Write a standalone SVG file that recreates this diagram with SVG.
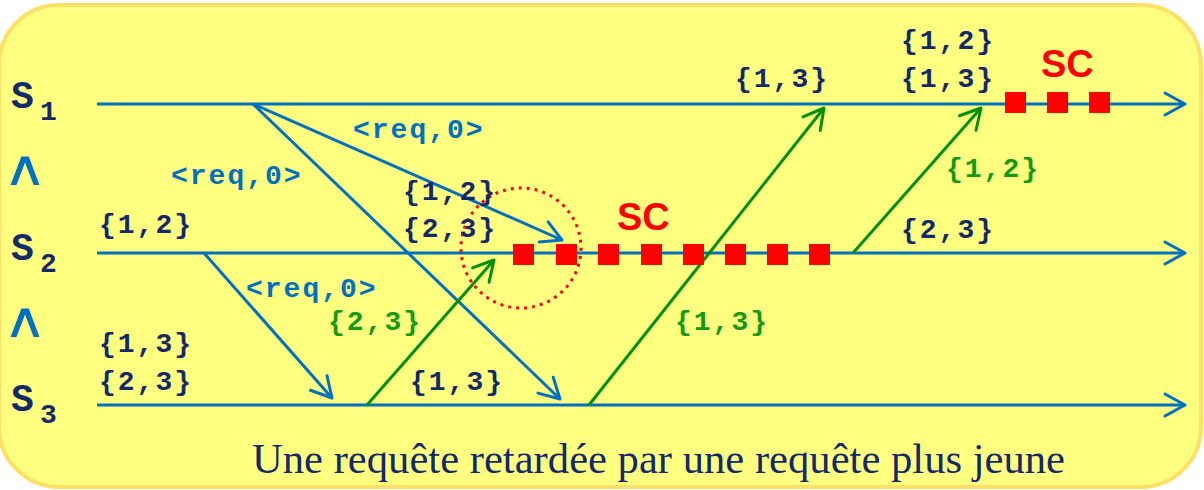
<svg xmlns="http://www.w3.org/2000/svg" width="1204" height="490" viewBox="0 0 1204 490">
<style>
.lbl{font-family:"Liberation Mono","Courier New",monospace;font-weight:bold;font-size:28px;letter-spacing:2px}
.navy{fill:#13296B}
.blue{fill:#0070C0}
.green{fill:#129A12}
.big{font-family:"Liberation Mono","Courier New",monospace;font-weight:bold;fill:#13296B}
.sc{font-family:"Liberation Sans",Arial,sans-serif;font-weight:bold;font-size:38px;fill:#FF0000}
.and{font-family:"DejaVu Sans",sans-serif;font-size:58px;fill:#0070C0}
.tl{stroke:#0070C0;stroke-width:3;fill:none}
.bm{stroke:#0070C0;stroke-width:3;fill:none}
.gm{stroke:#009000;stroke-width:3;fill:none}
.sq{fill:#FF0000}
</style>
<defs>
<marker id="ab" viewBox="-23 -14 26 28" markerWidth="26" markerHeight="28" refX="0" refY="0" markerUnits="userSpaceOnUse" orient="auto">
<path d="M-20,-11 L0,0 L-20,11" fill="none" stroke="#0070C0" stroke-width="3" stroke-linecap="round" stroke-linejoin="round"/>
</marker>
<marker id="ag" viewBox="-23 -14 26 28" markerWidth="26" markerHeight="28" refX="0" refY="0" markerUnits="userSpaceOnUse" orient="auto">
<path d="M-20,-11 L0,0 L-20,11" fill="none" stroke="#009000" stroke-width="3" stroke-linecap="round" stroke-linejoin="round"/>
</marker>
</defs>
<rect x="-1" y="5" width="1202" height="482" rx="60" ry="60" fill="#FFFF80" stroke="#FFE066" stroke-width="4"/>

<g id="S1">
<text class="big" x="11" y="108" font-size="38">S</text>
<text class="big" x="40" y="120" font-size="28">1</text>
<line class="tl" x1="97" y1="104" x2="1185" y2="104" marker-end="url(#ab)"/>
</g>
<g id="S2">
<text class="big" x="11" y="260" font-size="38">S</text>
<text class="big" x="40" y="272" font-size="28">2</text>
<line class="tl" x1="97" y1="253" x2="1185" y2="253" marker-end="url(#ab)"/>
</g>
<g id="S3">
<text class="big" x="11" y="411" font-size="38">S</text>
<text class="big" x="40" y="423" font-size="28">3</text>
<line class="tl" x1="97" y1="405" x2="1185" y2="405" marker-end="url(#ab)"/>
</g>
<g id="and-symbols">
<text class="and" transform="translate(25,185) scale(1.05,0.85)" text-anchor="middle">∧</text>
<text class="and" transform="translate(25,337) scale(1.05,0.85)" text-anchor="middle">∧</text>
</g>

<g id="connectors">
<line class="bm" x1="253" y1="104" x2="562" y2="240" marker-end="url(#ab)"/>
<line class="bm" x1="253" y1="104" x2="560" y2="399" marker-end="url(#ab)"/>
<line class="bm" x1="204" y1="253" x2="332" y2="398" marker-end="url(#ab)"/>
<line class="gm" x1="367" y1="405" x2="494" y2="260" marker-end="url(#ag)"/>
<line class="gm" x1="589" y1="405" x2="824" y2="108" marker-end="url(#ag)"/>
<line class="gm" x1="853" y1="253" x2="981" y2="108" marker-end="url(#ag)"/>
</g>

<g id="sc-S2">
<rect class="sq" x="513" y="244" width="21" height="21"/>
<rect class="sq" x="556" y="244" width="21" height="21"/>
<rect class="sq" x="598" y="244" width="21" height="21"/>
<rect class="sq" x="641" y="244" width="21" height="21"/>
<rect class="sq" x="683" y="244" width="21" height="21"/>
<rect class="sq" x="725" y="244" width="21" height="21"/>
<rect class="sq" x="767" y="244" width="21" height="21"/>
<rect class="sq" x="809" y="244" width="21" height="21"/>
<text class="sc" x="617" y="230">SC</text>
</g>
<g id="sc-S1">
<rect class="sq" x="1005" y="92" width="21" height="21"/>
<rect class="sq" x="1047" y="92" width="21" height="21"/>
<rect class="sq" x="1089" y="92" width="21" height="21"/>
<text class="sc" x="1041" y="77">SC</text>
</g>
<g id="circle">
<circle cx="521" cy="248" r="60" fill="none" stroke="#FF0000" stroke-width="3" stroke-dasharray="3 5"/>
</g>

<g id="labels">
<text class="lbl navy" x="735" y="87">{1,3}</text>
<text class="lbl navy" x="901" y="49">{1,2}</text>
<text class="lbl navy" x="901" y="87">{1,3}</text>
<text class="lbl navy" x="901" y="238">{2,3}</text>
<text class="lbl navy" x="99" y="233">{1,2}</text>
<text class="lbl navy" x="403" y="200">{1,2}</text>
<text class="lbl navy" x="403" y="237">{2,3}</text>
<text class="lbl navy" x="99" y="352">{1,3}</text>
<text class="lbl navy" x="99" y="390">{2,3}</text>
<text class="lbl navy" x="410" y="390">{1,3}</text>
<text class="lbl blue" x="353" y="138">&lt;req,0&gt;</text>
<text class="lbl blue" x="171" y="184">&lt;req,0&gt;</text>
<text class="lbl blue" x="246" y="297">&lt;req,0&gt;</text>
<text class="lbl green" x="328" y="330">{2,3}</text>
<text class="lbl green" x="675" y="330">{1,3}</text>
<text class="lbl green" x="946" y="177">{1,2}</text>
</g>
<text x="252" y="473" textLength="813" lengthAdjust="spacingAndGlyphs" font-family="Liberation Serif,Times New Roman,serif" font-size="43" fill="#13296B">Une requête retardée par une requête plus jeune</text>
</svg>
